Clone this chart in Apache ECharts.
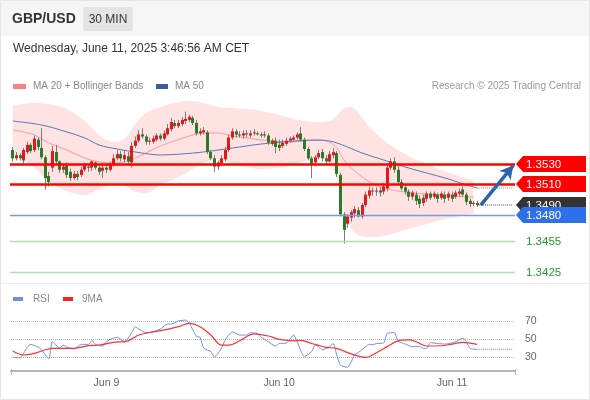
<!DOCTYPE html>
<html><head><meta charset="utf-8">
<script src="https://cdn.jsdelivr.net/npm/echarts@6/dist/echarts.min.js"></script>
<style>html,body{margin:0;padding:0;background:#fff}#c{width:590px;height:400px}</style>
</head><body><div id="c"></div>
<script>
// ---------- DATA ----------
// 30-min candles: [open, close, low, high]
const candles = [
[1.3543,1.3535,1.3532,1.3546],[1.3535,1.3538,1.3533,1.3541],[1.3538,1.3535,1.3533,1.3540],[1.3533,1.3543,1.3530,1.3545],
[1.3541,1.3548,1.3539,1.3551],[1.3548,1.3542,1.3540,1.3550],[1.3543,1.3554,1.3541,1.3557],[1.3553,1.3546,1.3543,1.3555],
[1.3545,1.3536,1.3534,1.3564],[1.3536,1.3516,1.3505,1.3538],[1.3518,1.3512,1.3508,1.3522],[1.3526,1.3542,1.3522,1.3547],
[1.3541,1.3532,1.3529,1.3548],[1.3532,1.3524,1.3521,1.3533],[1.3524,1.3527,1.3521,1.3529],[1.3528,1.3519,1.3516,1.3531],
[1.3522,1.3516,1.3513,1.3525],[1.3516,1.3520,1.3514,1.3523],[1.3520,1.3517,1.3514,1.3523],[1.3519,1.3524,1.3517,1.3527],
[1.3524,1.3528,1.3522,1.3531],[1.3527,1.3526,1.3522,1.3530],[1.3526,1.3532,1.3523,1.3533],[1.3531,1.3526,1.3524,1.3532],
[1.3526,1.3522,1.3519,1.3528],[1.3523,1.3526,1.3516,1.3529],[1.3526,1.3524,1.3521,1.3529],[1.3524,1.3529,1.3522,1.3532],
[1.3529,1.3535,1.3527,1.3539],[1.3535,1.3539,1.3533,1.3543],[1.3539,1.3535,1.3532,1.3542],[1.3534,1.3538,1.3531,1.3543],
[1.3537,1.3532,1.3529,1.3541],[1.3531,1.3547,1.3526,1.3551],[1.3547,1.3552,1.3545,1.3556],[1.3552,1.3558,1.3550,1.3562],
[1.3558,1.3556,1.3554,1.3564],[1.3556,1.3551,1.3548,1.3558],[1.3551,1.3552,1.3548,1.3555],[1.3551,1.3554,1.3549,1.3557],
[1.3553,1.3557,1.3551,1.3559],[1.3557,1.3554,1.3552,1.3559],[1.3554,1.3559,1.3552,1.3562],[1.3558,1.3564,1.3557,1.3568],
[1.3563,1.3570,1.3561,1.3574],[1.3569,1.3566,1.3564,1.3572],[1.3566,1.3569,1.3564,1.3572],[1.3568,1.3572,1.3566,1.3575],
[1.3571,1.3573,1.3568,1.3580],[1.3572,1.3575,1.3570,1.3577],[1.3574,1.3569,1.3567,1.3576],[1.3569,1.3559,1.3557,1.3572],
[1.3559,1.3561,1.3557,1.3564],[1.3560,1.3562,1.3558,1.3565],[1.3560,1.3541,1.3539,1.3562],[1.3541,1.3535,1.3533,1.3543],
[1.3535,1.3527,1.3522,1.3538],[1.3527,1.3531,1.3524,1.3533],[1.3530,1.3535,1.3528,1.3538],[1.3534,1.3543,1.3532,1.3546],
[1.3543,1.3555,1.3541,1.3558],[1.3555,1.3561,1.3553,1.3564],[1.3561,1.3558,1.3555,1.3563],[1.3558,1.3557,1.3555,1.3561],
[1.3557,1.3559,1.3554,1.3562],[1.3559,1.3558,1.3555,1.3562],[1.3557,1.3559,1.3555,1.3562],[1.3559,1.3560,1.3557,1.3563],
[1.3559,1.3558,1.3557,1.3561],[1.3558,1.3557,1.3555,1.3560],[1.3557,1.3558,1.3555,1.3561],[1.3557,1.3550,1.3548,1.3559],
[1.3549,1.3552,1.3547,1.3554],[1.3552,1.3546,1.3540,1.3555],[1.3548,1.3545,1.3542,1.3553],[1.3547,1.3550,1.3545,1.3553],
[1.3549,1.3552,1.3547,1.3555],[1.3552,1.3554,1.3550,1.3556],[1.3553,1.3555,1.3551,1.3557],[1.3555,1.3558,1.3553,1.3560],
[1.3559,1.3553,1.3551,1.3565],[1.3553,1.3544,1.3542,1.3555],[1.3544,1.3535,1.3533,1.3546],[1.3535,1.3530,1.3516,1.3537],
[1.3531,1.3536,1.3528,1.3538],[1.3536,1.3540,1.3534,1.3543],[1.3541,1.3535,1.3532,1.3544],[1.3535,1.3532,1.3529,1.3538],
[1.3532,1.3539,1.3531,1.3542],[1.3538,1.3541,1.3535,1.3545],[1.3540,1.3520,1.3517,1.3542],[1.3519,1.3481,1.3479,1.3521],
[1.3481,1.3466,1.3453,1.3483],[1.3472,1.3479,1.3468,1.3481],[1.3478,1.3483,1.3474,1.3485],[1.3482,1.3486,1.3478,1.3489],
[1.3485,1.3479,1.3478,1.3488],[1.3479,1.3490,1.3477,1.3492],[1.3490,1.3500,1.3488,1.3503],[1.3499,1.3504,1.3496,1.3508],
[1.3504,1.3503,1.3499,1.3507],[1.3503,1.3504,1.3499,1.3507],[1.3504,1.3502,1.3498,1.3507],[1.3503,1.3508,1.3500,1.3511],
[1.3506,1.3526,1.3503,1.3529],[1.3526,1.3532,1.3524,1.3535],[1.3532,1.3524,1.3521,1.3536],[1.3524,1.3512,1.3510,1.3528],
[1.3512,1.3506,1.3504,1.3515],[1.3507,1.3503,1.3500,1.3510],[1.3503,1.3498,1.3494,1.3505],[1.3498,1.3502,1.3495,1.3504],
[1.3500,1.3494,1.3490,1.3503],[1.3496,1.3491,1.3487,1.3499],[1.3492,1.3497,1.3489,1.3500],[1.3496,1.3501,1.3493,1.3503],
[1.3501,1.3497,1.3495,1.3503],[1.3498,1.3501,1.3496,1.3503],[1.3500,1.3496,1.3492,1.3502],[1.3497,1.3501,1.3495,1.3503],
[1.3500,1.3496,1.3492,1.3503],[1.3497,1.3501,1.3494,1.3503],[1.3500,1.3496,1.3493,1.3503],[1.3498,1.3502,1.3496,1.3504],
[1.3501,1.3503,1.3498,1.3506],[1.3505,1.3500,1.3498,1.3508],[1.3500,1.3493,1.3490,1.3502],[1.3494,1.3491,1.3488,1.3496],
[1.3491,1.3492,1.3489,1.3494],[1.3492,1.3490,1.3488,1.3494]
];
// Bollinger rows: [candle index, upper, MA20, lower]
const bollinger = [
[0,1.35854,1.35623,1.35392],[3,1.35873,1.35604,1.35334],[6,1.35883,1.35575,1.35266],[10,1.35873,1.35498,1.35122],
[15,1.35825,1.35430,1.35035],[20,1.35709,1.35353,1.34997],[24,1.35575,1.35315,1.35054],[28,1.35507,1.35305,1.35103],
[31,1.35536,1.35315,1.35093],[34,1.35681,1.35353,1.35025],[37,1.35787,1.35401,1.35016],[41,1.35844,1.35469,1.35093],
[45,1.35883,1.35517,1.35151],[49,1.35902,1.35565,1.35228],[53,1.35883,1.35594,1.35305],[57,1.35844,1.35594,1.35343],
[61,1.35835,1.35565,1.35295],[65,1.35825,1.35546,1.35266],[69,1.35806,1.35526,1.35247],[73,1.35777,1.35517,1.35257],
[77,1.35738,1.35507,1.35276],[81,1.35709,1.35517,1.35324],[85,1.35700,1.35526,1.35353],[88,1.35709,1.35507,1.35305],
[90,1.35758,1.35449,1.35141],[92,1.35835,1.35334,1.34833],[94,1.35844,1.35257,1.34669],[96,1.35787,1.35199,1.34611],
[99,1.35652,1.35122,1.34592],[103,1.35526,1.35064,1.34602],[107,1.35430,1.35035,1.34640],[111,1.35353,1.35016,1.34679],
[115,1.35295,1.35006,1.34717],[119,1.35237,1.34997,1.34756],[123,1.35189,1.34987,1.34785],[127,1.35141,1.34977,1.34814],
[128,1.35131,1.34977,1.34823]
];
// MA 50: [candle index, value]
const ma50 = [
[0,1.35709],[8,1.35671],[15,1.35604],[20,1.35546],[24,1.35478],[29,1.35440],[34,1.35411],[41,1.35382],
[47,1.35392],[53,1.35411],[61,1.35449],[69,1.35488],[75,1.35507],[84,1.35526],[88,1.35517],[90,1.35498],
[93,1.35459],[97,1.35401],[103,1.35334],[109,1.35266],[115,1.35208],[121,1.35151],[126,1.35093],[129,1.35064]
];
// RSI and its 9-period MA: [candle index, value]
const rsi = [
[0,29.7],[2,29],[4,41],[5,44],[7,41],[8,38],[10,28],[11,47],[13,40],[14,43],[15,41],[17,39],[19,44],[21,44],
[22,48],[23,44],[25,42],[26,47],[28,51],[29,52],[31,47],[33,56.7],[34,63.7],[35,61],[37,57],[39,58],[41,61],
[43,66.7],[44,66.5],[46,70],[48,71],[49,67.8],[51,53],[52,52],[53,40],[55,36],[56,30],[58,40],[59,49],[61,57.8],
[63,54.4],[65,54.4],[66,57],[68,56],[69,52],[71,47],[73,42],[74,45],[76,45.5],[78,54.4],[79,47],[81,30.4],
[83,36],[84,43],[85,41.5],[86,38],[88,41.5],[89,45],[90,32],[91,21],[93,18.5],[94,24.8],[95,33],[96,35],
[98,41.5],[99,44],[100,43.5],[101,45],[103,45.5],[104,56.3],[106,57],[107,47.8],[109,44.4],[111,41.5],
[113,41.5],[114,39.6],[115,39.6],[116,46],[118,45],[120,44.4],[122,45.5],[123,47],[125,50.7],[126,47],
[127,39.6],[129,38.5]
];
const rsiMA = [
[0,36.7],[3,32.2],[6,34],[8,36.7],[11,39.6],[17,39.6],[21,42.6],[24,43.3],[28,46.3],[32,48],[35,54.4],
[39,58],[43,60.7],[46,63.7],[49,67.4],[52,63.7],[55,54.4],[58,43.3],[60,43.3],[63,48],[67,55.6],[71,53.3],
[74,49.6],[78,48],[80,48.5],[83,45],[84,44],[87,40.7],[90,39.6],[93,34.8],[96,31],[98,29.6],[101,34.8],
[104,41.5],[107,48],[110,49],[112,47],[115,42.2],[119,42.5],[122,44.4],[125,46.3],[129,44]
];
const rsiLevels = [70, 50, 30];
// Key price levels and their role
const levelValues = [1.3530, 1.3510, 1.3490, 1.3480, 1.3455, 1.3425];
const levelKinds  = ['resist', 'resist', 'last', 'support', 'pivot', 'pivot'];
const lastPrice = 1.3490;
const targetPrice = 1.3530;
// x-axis: 30-min slots, day labels at midnight slots
const slotCount = 140;
const dayLabels = ['Jun 9', 'Jun 10', 'Jun 11'];
const dayLabelIndex = [26, 74, 122];

// ---------- RENDER ----------
const FONT = '"Liberation Sans", Arial, Helvetica, sans-serif';
const cats = Array.from({length: slotCount}, (_, i) => String(i));
const lastIdx = candles.length - 1;
const endIdx = slotCount - 1;
const ma50Last = ma50[ma50.length - 1][1];
const rsiLast = rsi[rsi.length - 1][1];

const kindStyle = {
  resist:  {line: '#ff0000', width: 2.5, box: '#ff0000', text: '#ffffff'},
  last:    {line: null,      width: 0,   box: '#333333', text: '#ffffff'},
  support: {line: '#6e9df3', width: 1.5, box: '#2f6fe9', text: '#ffffff'},
  pivot:   {line: '#b9dbb4', width: 1.5, box: null,      text: '#2c962c'}
};

const chart = echarts.init(document.getElementById('c'), null, {renderer: 'canvas', width: 590, height: 400});

const candleData = candles.map((d, i) => [i, d[0], d[1], d[2], d[3]]);
const bbLowerData = bollinger.map(r => [r[0], r[3]]);
const bbRangeData = bollinger.map(r => [r[0], r[1] - r[3]]);
const ma20Data = bollinger.map(r => [r[0], r[2]]);

const option = {
  animation: false,
  backgroundColor: '#ffffff',
  grid: [
    {left: 11, right: 75, top: 95, height: 188.9},
    {left: 11, right: 75, top: 303, height: 67.5}
  ],
  xAxis: [
    {type: 'category', gridIndex: 0, data: cats, boundaryGap: true, show: false},
    {type: 'category', gridIndex: 1, data: cats, boundaryGap: true,
      axisLine: {show: true, lineStyle: {color: '#b4b4b4', width: 2}},
      axisTick: {show: false},
      splitLine: {show: false},
      axisLabel: {
        interval: (idx) => dayLabelIndex.indexOf(idx) >= 0,
        formatter: (val) => { const k = dayLabelIndex.indexOf(Number(val)); return k >= 0 ? dayLabels[k] : ''; },
        color: '#666', fontSize: 10.5, fontFamily: FONT, margin: 7
      }
    }
  ],
  yAxis: [
    {type: 'value', gridIndex: 0, min: 1.3414, max: 1.3596, show: false, splitLine: {show: false}},
    {type: 'value', gridIndex: 1, min: 15, max: 90, show: false, splitLine: {show: false}}
  ],
  series: [
    {type: 'line', name: 'bbBase', data: bbLowerData, stack: 'bb', smooth: 0.35, symbol: 'none',
      lineStyle: {opacity: 0}, silent: true, z: 1},
    {type: 'line', name: 'bbRange', data: bbRangeData, stack: 'bb', smooth: 0.35, symbol: 'none',
      lineStyle: {opacity: 0}, areaStyle: {color: 'rgba(255,110,110,0.2)', opacity: 1}, silent: true, z: 1},
    {type: 'line', name: 'MA20', data: ma20Data, smooth: 0.35, symbol: 'none',
      lineStyle: {color: '#ff9a9a', width: 1}, silent: true, z: 2},
    {type: 'line', name: 'MA50', data: ma50, smooth: 0.35, symbol: 'none',
      lineStyle: {color: '#5878b6', width: 1}, silent: true, z: 2},
    {type: 'line', name: 'MA50ext', data: [[lastIdx, ma50Last], [endIdx, ma50Last]], symbol: 'none',
      lineStyle: {color: '#8a8a8a', width: 1, type: 'dotted'}, silent: true, z: 5,
      markLine: {silent: true, symbol: ['none', 'arrow'], symbolSize: [11, 13], label: {show: false},
        lineStyle: {color: '#2e62a9', width: 3.5, type: 'solid'},
        data: [[{coord: [String(lastIdx + 1), lastPrice]}, {coord: [String(endIdx), targetPrice - 0.0002]}]]
      }
    },
    {type: 'custom', name: 'levelLines', data: levelValues.map((v, k) => [0, v, k]),
      encode: {x: 0, y: 1}, clip: false, silent: true, z: 4,
      renderItem: (params, api) => {
        const v = api.value(1), k = api.value(2);
        const s = kindStyle[levelKinds[k]];
        if (!s.line) return {type: 'group', children: []};
        const y = Math.round(api.coord([0, v])[1]) + (s.width % 2 ? 0.5 : 0);
        const x0 = params.coordSys.x, xr = params.coordSys.x + params.coordSys.width;
        return {type: 'line', shape: {x1: x0 - 1, y1: y, x2: xr, y2: y}, style: {stroke: s.line, lineWidth: s.width}};
      }
    },
    {type: 'custom', name: 'candles', data: candleData, encode: {x: 0, y: [1, 2, 3, 4]}, z: 3, silent: true,
      renderItem: (params, api) => {
        const i = api.value(0), o = api.value(1), c = api.value(2), l = api.value(3), h = api.value(4);
        const pO = api.coord([i, o]), pC = api.coord([i, c]);
        const pL = api.coord([i, l]), pH = api.coord([i, h]);
        const cx = Math.floor(pO[0]) + 0.5;
        const top = Math.min(pO[1], pC[1]), bot = Math.max(pO[1], pC[1]);
        const up = c >= o;
        return {type: 'group', children: [
          {type: 'line', shape: {x1: cx, y1: pH[1], x2: cx, y2: pL[1]}, style: {stroke: '#7b7b7b', lineWidth: 1}},
          {type: 'rect', shape: {x: cx - 1.5, y: top, width: 3, height: Math.max(1, bot - top)},
            style: {fill: up ? '#e6161b' : '#2a7a2a'}}
        ]};
      }
    },
    {type: 'line', name: 'last', data: [[lastIdx, lastPrice], [endIdx, lastPrice]], symbol: 'none',
      lineStyle: {color: '#444', width: 1, type: 'dotted'}, silent: true, z: 4},
    {type: 'custom', name: 'levelTags', data: levelValues.map((v, k) => [0, v, k]),
      encode: {x: 0, y: 1}, clip: false, silent: true, z: 6,
      renderItem: (params, api) => {
        const v = api.value(1), k = api.value(2);
        const s = kindStyle[levelKinds[k]];
        const y = Math.round(api.coord([0, v])[1]);
        const xr = params.coordSys.x + params.coordSys.width;
        const kids = [];
        if (s.box) {
          kids.push({type: 'polygon', shape: {points: [[xr + 1, y], [xr + 8, y - 8], [xr + 71, y - 8], [xr + 71, y + 8], [xr + 8, y + 8]]},
            style: {fill: s.box}});
        }
        kids.push({type: 'text', x: xr + 11, y: y + 0.5,
          style: {text: v.toFixed(4), fill: s.text, font: '11.5px ' + FONT,
            align: 'left', verticalAlign: 'middle', textAlign: 'left', textVerticalAlign: 'middle'}});
        return {type: 'group', children: kids};
      }
    },
    // RSI panel
    {type: 'line', name: 'RSI', xAxisIndex: 1, yAxisIndex: 1, data: rsi, smooth: 0.2, symbol: 'none',
      lineStyle: {color: '#7090e6', width: 1}, silent: true, z: 3,
      markLine: {silent: true, symbol: 'none',
        lineStyle: {color: '#b5b5b5', width: 1, type: 'dotted'},
        label: {show: true, position: 'end', formatter: '{c}', color: '#666', fontSize: 10.5, fontFamily: FONT, distance: 10},
        data: rsiLevels.map(v => ({yAxis: v})), z: 1}
    },
    {type: 'line', name: '9MA', xAxisIndex: 1, yAxisIndex: 1, data: rsiMA, smooth: 0.35, symbol: 'none',
      lineStyle: {color: '#ff3030', width: 1.2}, silent: true, z: 3},
    {type: 'line', name: 'RSIext', xAxisIndex: 1, yAxisIndex: 1, data: [[lastIdx, rsiLast], [endIdx, rsiLast]], symbol: 'none',
      lineStyle: {color: '#7090e6', width: 1, type: 'dotted'}, silent: true, z: 3}
  ],
  graphic: [
    {type: 'rect', shape: {x: 0, y: 0, width: 590, height: 36}, style: {fill: '#f6f6f6'}, z: -1},
    {type: 'rect', shape: {x: 83, y: 7, width: 50, height: 24, r: 2}, style: {fill: '#e4e4e4'}},
    {type: 'text', x: 12, y: 19.5, style: {text: 'GBP/USD', fill: '#333', font: 'bold 14px ' + FONT, verticalAlign: 'middle', textVerticalAlign: 'middle'}},
    {type: 'text', x: 108, y: 19.5, style: {text: '30 MIN', fill: '#333', font: '12px ' + FONT, align: 'center', textAlign: 'center', verticalAlign: 'middle', textVerticalAlign: 'middle'}},
    {type: 'text', x: 13, y: 48.5, style: {text: 'Wednesday, June 11, 2025 3:46:56 AM CET', fill: '#333', font: '12px ' + FONT, verticalAlign: 'middle', textVerticalAlign: 'middle'}},
    {type: 'rect', shape: {x: 13, y: 84, width: 13, height: 5}, style: {fill: '#ff7f7f'}},
    {type: 'text', x: 33, y: 86.5, style: {text: 'MA 20 + Bollinger Bands', fill: '#888', font: '10px ' + FONT, verticalAlign: 'middle', textVerticalAlign: 'middle'}},
    {type: 'rect', shape: {x: 156, y: 84, width: 12, height: 5}, style: {fill: '#3b5d9e'}},
    {type: 'text', x: 175, y: 86.5, style: {text: 'MA 50', fill: '#888', font: '10px ' + FONT, verticalAlign: 'middle', textVerticalAlign: 'middle'}},
    {type: 'text', x: 581, y: 86.5, style: {text: 'Research \u00a9 2025 Trading Central', fill: '#9a9a9a', font: '10px ' + FONT, align: 'right', textAlign: 'right', verticalAlign: 'middle', textVerticalAlign: 'middle'}},
    {type: 'rect', shape: {x: 13, y: 297, width: 10, height: 4}, style: {fill: '#6e8ee6'}},
    {type: 'text', x: 33, y: 299.5, style: {text: 'RSI', fill: '#888', font: '10px ' + FONT, verticalAlign: 'middle', textVerticalAlign: 'middle'}},
    {type: 'rect', shape: {x: 63, y: 297, width: 10, height: 4}, style: {fill: '#ff2020'}},
    {type: 'text', x: 82, y: 299.5, style: {text: '9MA', fill: '#888', font: '10px ' + FONT, verticalAlign: 'middle', textVerticalAlign: 'middle'}},
    {type: 'line', shape: {x1: 0, y1: 283.5, x2: 590, y2: 283.5}, style: {stroke: '#ececec', lineWidth: 1}},
    {type: 'line', shape: {x1: 11.5, y1: 369, x2: 11.5, y2: 375}, style: {stroke: '#b4b4b4', lineWidth: 1}},
    {type: 'line', shape: {x1: 515.5, y1: 369, x2: 515.5, y2: 375}, style: {stroke: '#b4b4b4', lineWidth: 1}},
    {type: 'rect', shape: {x: 0.5, y: 0.5, width: 589, height: 399}, style: {fill: 'none', stroke: '#e6e6e6', lineWidth: 1}}
  ]
};
chart.setOption(option);
</script>
</body></html>
